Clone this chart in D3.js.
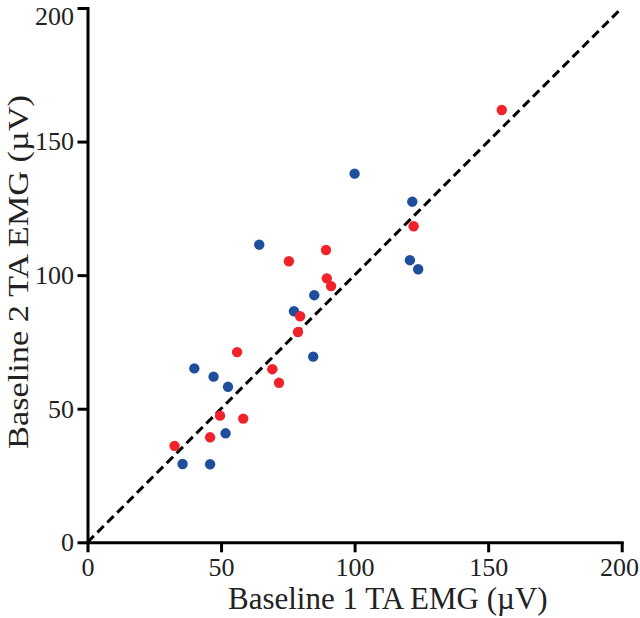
<!DOCTYPE html>
<html><head><meta charset="utf-8">
<script src="https://cdn.jsdelivr.net/npm/d3@7"></script>
<style>body{margin:0;background:#fff}svg{display:block}</style>
</head><body>
<svg id="c" width="640" height="618"></svg>
<script>
const blueX = [100, 121.6, 120.7, 123.8, 64.3, 84.9, 77.3, 84.5, 40.0, 47.2, 52.6, 51.7, 35.6, 45.9];
const blueY = [138, 127.5, 105.6, 102.2, 111.4, 92.5, 86.5, 69.5, 65.1, 62.0, 58.2, 40.8, 29.3, 29.2];
const redX = [155.1, 122.1, 89.3, 75.4, 89.6, 91.2, 79.6, 78.8, 56.0, 69.2, 71.7, 49.6, 58.3, 45.9, 32.6];
const redY = [161.8, 118.3, 109.4, 105.2, 98.8, 95.9, 84.6, 78.7, 71.2, 64.8, 59.7, 47.4, 46.3, 39.3, 36.1];
const ticks = [0, 50, 100, 150, 200];
const identityLine = [0, 200];
const xTitle = "Baseline 1 TA EMG (\u00b5V)";
const yTitle = "Baseline 2 TA EMG (\u00b5V)";

const svg = d3.select("#c");
const x = d3.scaleLinear().domain([0, 200]).range([87.5, 621.7]);
const y = d3.scaleLinear().domain([0, 200]).range([542.3, 8]);
const font = "'Liberation Serif','Times New Roman',serif";

const gx = svg.append("g").attr("transform", `translate(0,${y(0)})`)
  .call(d3.axisBottom(x).tickValues(ticks).tickSize(10).tickPadding(5).tickSizeOuter(0));
const gy = svg.append("g").attr("transform", `translate(${x(0)},0)`)
  .call(d3.axisLeft(y).tickValues(ticks).tickSize(10).tickPadding(3.5).tickSizeOuter(0));
[gx, gy].forEach(g => {
  g.select(".domain").attr("stroke", "#000").attr("stroke-width", 3).attr("stroke-linecap", "square");
  g.selectAll(".tick line").attr("stroke", "#000").attr("stroke-width", 3);
  g.selectAll(".tick text").attr("fill", "#222").style("font-family", font).style("font-size", "26px");
});
gy.selectAll(".tick text").filter(d => d === 200).attr("dy", "0.62em");
gx.selectAll(".tick text").filter(d => d === 200).attr("dx", "-0.1em");

svg.append("line")
  .attr("x1", x(identityLine[0])).attr("y1", y(identityLine[0]))
  .attr("x2", x(identityLine[1])).attr("y2", y(identityLine[1]))
  .attr("stroke", "#000").attr("stroke-width", 3).attr("stroke-dasharray", "9,5");

const blue = blueX.map((v, i) => [v, blueY[i]]);
const red = redX.map((v, i) => [v, redY[i]]);
svg.append("g").selectAll("circle").data(blue).join("circle")
  .attr("cx", d => x(d[0])).attr("cy", d => y(d[1])).attr("r", 5.2).attr("fill", "#1f4e9e");
svg.append("g").selectAll("circle").data(red).join("circle")
  .attr("cx", d => x(d[0])).attr("cy", d => y(d[1])).attr("r", 5.2).attr("fill", "#f2222a");

svg.append("text").attr("x", 228).attr("y", 609).attr("text-anchor", "start")
  .style("font-family", font).style("font-size", "31px").attr("fill", "#222").text(xTitle);
svg.append("text").attr("transform", `translate(28,449) rotate(-90)`).attr("text-anchor", "start")
  .style("font-family", font).style("font-size", "30px").attr("fill", "#222")
  .attr("textLength", 354).attr("lengthAdjust", "spacingAndGlyphs").text(yTitle);
</script>
</body></html>
